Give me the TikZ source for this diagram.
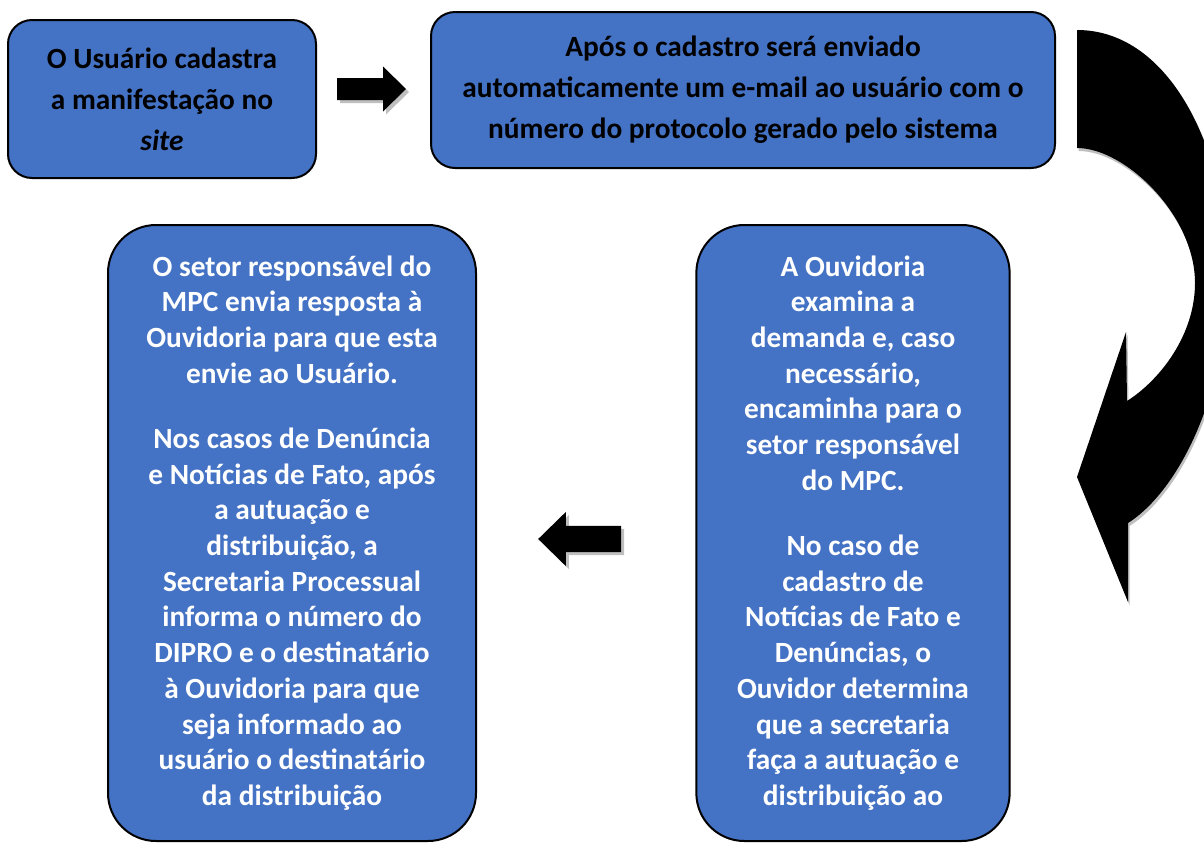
\documentclass[tikz,border=0pt]{standalone}
\usepackage{fontspec}
\setmainfont{Carlito}
\usetikzlibrary{positioning}
\definecolor{boxBlue}{HTML}{4472C4}
\definecolor{arrowShadow}{HTML}{BFBFBF}
\tikzset{
    flowBox/.style={draw=black, line width=1.5pt, fill=boxBlue, rounded corners=18pt, align=center, inner sep=0pt,
        font=\fontsize{22}{30.8}\selectfont\bfseries},
    tallBox/.style={flowBox, rounded corners=36pt, text=white,
        font=\fontsize{22}{26.8}\selectfont\bfseries}
}
\tikzset{
    blockArrow/.pic={
		\fill[#1] (0,-11) -- (46,-11) -- (46,-22.5) -- (69,0) -- (46,22.5) -- (46,11) -- (0,11) -- cycle;
	}
}
\tikzset{
    turnArrow/.pic={
		\fill[#1] (1077,30) .. controls (1170,30) and (1228,150) .. (1228,275)
			.. controls (1228,390) and (1180,490) .. (1128,523)
			-- (1128,602) -- (1077,477) -- (1126,332) -- (1127,401)
			.. controls (1160,380) and (1195,335) .. (1195,283)
			.. controls (1195,215) and (1125,148) .. (1077,148) -- cycle;
	}
}
\begin{document}
\begin{tikzpicture}[x=0.75pt, y=-0.75pt]
			\useasboundingbox (0,0) rectangle (1204,843);
			\clip (0,0) rectangle (1204,843);
			\node[flowBox, minimum width=231pt, minimum height=118.5pt] (cadastro) at (162,99)
				{O Usuário cadastra\\a manifestação no\\\textit{site}};
			\node[flowBox, minimum width=468pt, minimum height=117pt] (email) at (743,90)
				{Após o cadastro será enviado\\automaticamente um e-mail ao usuário com o\\número do protocolo gerado pelo sistema};
			\node[tallBox, minimum width=235pt, minimum height=462pt] (ouvidoria) at (853,533)
				{A Ouvidoria\\examina a\\demanda e, caso\\necessário,\\encaminha para o\\setor responsável\\do MPC.\\[22pt]
				No caso de\\cadastro de\\Notícias de Fato e\\Denúncias, o\\Ouvidor determina\\que a secretaria\\faça a autuação e\\distribuição ao};
			\node[tallBox, minimum width=276pt, minimum height=462pt] (setor) at (292,533)
				{O setor responsável do\\MPC envia resposta à\\Ouvidoria para que esta\\envie ao Usuário.\\[22pt]
				Nos casos de Denúncia\\e Notícias de Fato, após\\a autuação e\\distribuição, a\\Secretaria Processual\\informa o número do\\DIPRO e o destinatário\\à Ouvidoria para que\\seja informado ao\\usuário o destinatário\\da distribuição};
			\pic[shift={(3,3)}] at (337,89) {blockArrow=arrowShadow};
			\pic at (337,89) {blockArrow=black};
			\pic[shift={(3,3)}, xscale=-1.2, yscale=1.2] at (621,539) {blockArrow=arrowShadow};
			\pic[xscale=-1.2, yscale=1.2] at (621,539) {blockArrow=black};
			\pic[shift={(1.5,3)}] at (0,0) {turnArrow=arrowShadow};
			\pic at (0,0) {turnArrow=black};
\end{tikzpicture}
\end{document}
